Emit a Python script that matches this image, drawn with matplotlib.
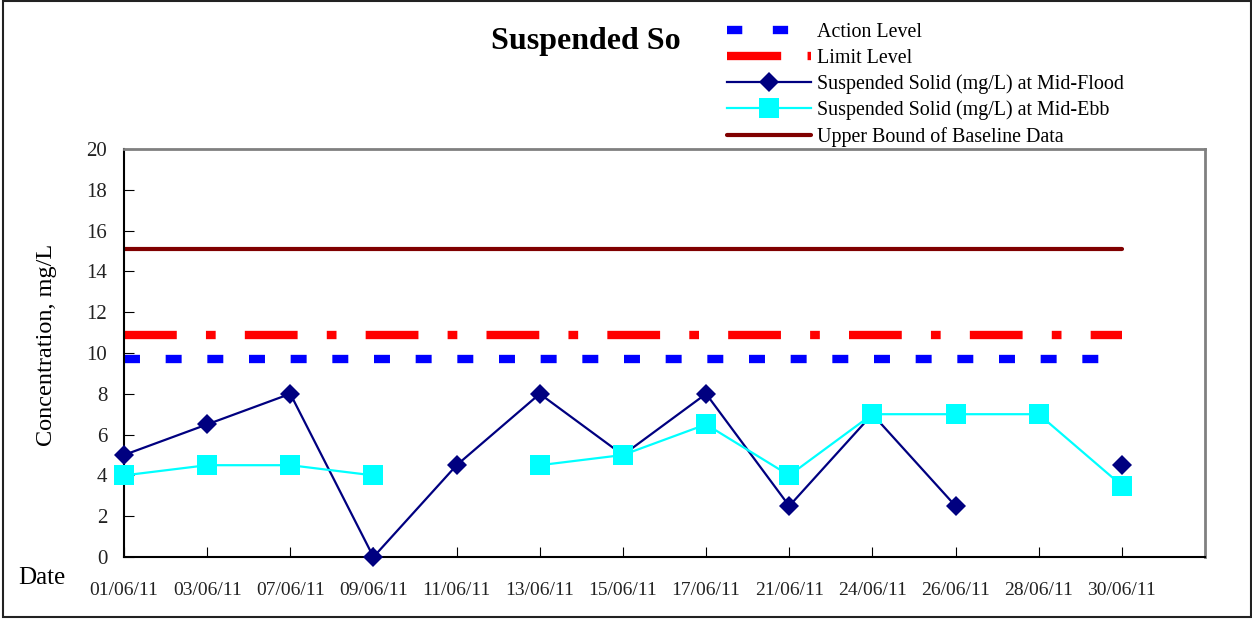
import numpy as np
import matplotlib.pyplot as plt
from matplotlib.lines import Line2D
from matplotlib.patches import Rectangle

plt.rcParams['font.family'] = ['Liberation Serif', 'DejaVu Serif']
plt.rcParams['lines.scale_dashes'] = False

dates = ["01/06/11", "03/06/11", "07/06/11", "09/06/11", "11/06/11", "13/06/11",
         "15/06/11", "17/06/11", "21/06/11", "24/06/11", "26/06/11", "28/06/11", "30/06/11"]
mid_flood = [5, 6.5, 8, 0, 4.5, 8, 5, 8, 2.5, 7, 2.5, np.nan, 4.5]
mid_ebb = [4, 4.5, 4.5, 4, np.nan, 4.5, 5, 6.5, 4, 7, 7, 7, 3.5]
action_level = 9.7
limit_level = 10.9
upper_bound = 15.1

W, H = 1252, 619
fig = plt.figure(figsize=(W / 100, H / 100), dpi=100)
ax = fig.add_axes([124 / W, 1 - 557 / H, (1205 - 124) / W, (557 - 149) / H])

x = np.arange(len(dates))
lvl_x = [x[0], x[-1]]

ax.plot(lvl_x, [action_level] * 2, color="#0000FF", lw=6, dashes=(11.5, 18.5),
        dash_capstyle="butt")
ax.plot(lvl_x, [limit_level] * 2, color="#FF0000", lw=6, dashes=(38, 21, 7, 21),
        dash_capstyle="butt")
ax.plot(x, mid_flood, color="#000080", lw=1.6, marker="D", ms=10.5,
        markeredgewidth=0, clip_on=False, zorder=3)
ax.plot(x, mid_ebb, color="#00FFFF", lw=1.6, marker="s", ms=15,
        markeredgewidth=0, clip_on=False, zorder=3)
ax.plot(lvl_x, [upper_bound] * 2, color="#800000", lw=3, solid_capstyle="round")

ax.set_xlim(0, 13)
ax.set_ylim(0, 20)
ax.set_yticks(np.arange(0, 21, 2))
ax.set_xticks(x)
ax.set_xticklabels(dates)
ax.tick_params(axis="both", direction="in", colors="black", labelcolor="#222222")
ax.tick_params(axis="y", length=7, pad=12, labelsize=15)
ax.tick_params(axis="x", length=7, pad=18, labelsize=14)

for s in ["left", "bottom"]:
    ax.spines[s].set_color("black")
    ax.spines[s].set_linewidth(1.5)
for s in ["top", "right"]:
    ax.spines[s].set_color("#808080")
    ax.spines[s].set_linewidth(2)

ax.set_ylabel("Concentration, mg/L", fontsize=17.5)
ax.yaxis.set_label_coords(-0.062, 0.52)
fig.text(18 / W, 1 - 578 / H, "Date", fontsize=18, ha="left", va="center")
fig.text(586 / W, 1 - 41 / H, "Suspended So", fontsize=23, fontweight="bold",
         ha="center", va="center")

handles = [
    Line2D([], [], color="#0000FF", lw=6, dashes=(11, 22)),
    Line2D([], [], color="#FF0000", lw=6, dashes=(39, 19, 4, 100)),
    Line2D([], [], color="#000080", lw=1.6, marker="D", ms=10.5, markeredgewidth=0),
    Line2D([], [], color="#00FFFF", lw=1.6, marker="s", ms=15, markeredgewidth=0),
    Line2D([], [], color="#800000", lw=3, solid_capstyle="round"),
]
labels = ["Action Level", "Limit Level", "Suspended Solid (mg/L) at Mid-Flood",
          "Suspended Solid (mg/L) at Mid-Ebb", "Upper Bound of Baseline Data"]
fig.legend(handles, labels, loc="upper left", bbox_to_anchor=(727 / W, 1 - 23 / H),
           frameon=False, fontsize=14.4, handlelength=4.2, handletextpad=0.3,
           labelspacing=0.33, borderaxespad=0, borderpad=0)

fig.patches.append(Rectangle((3 / W, 2 / H), 1 - 4 / W, 1 - 3 / H,
                             transform=fig.transFigure, fill=False,
                             edgecolor="#222222", lw=1.5))

fig.savefig("out.png", dpi=100)
